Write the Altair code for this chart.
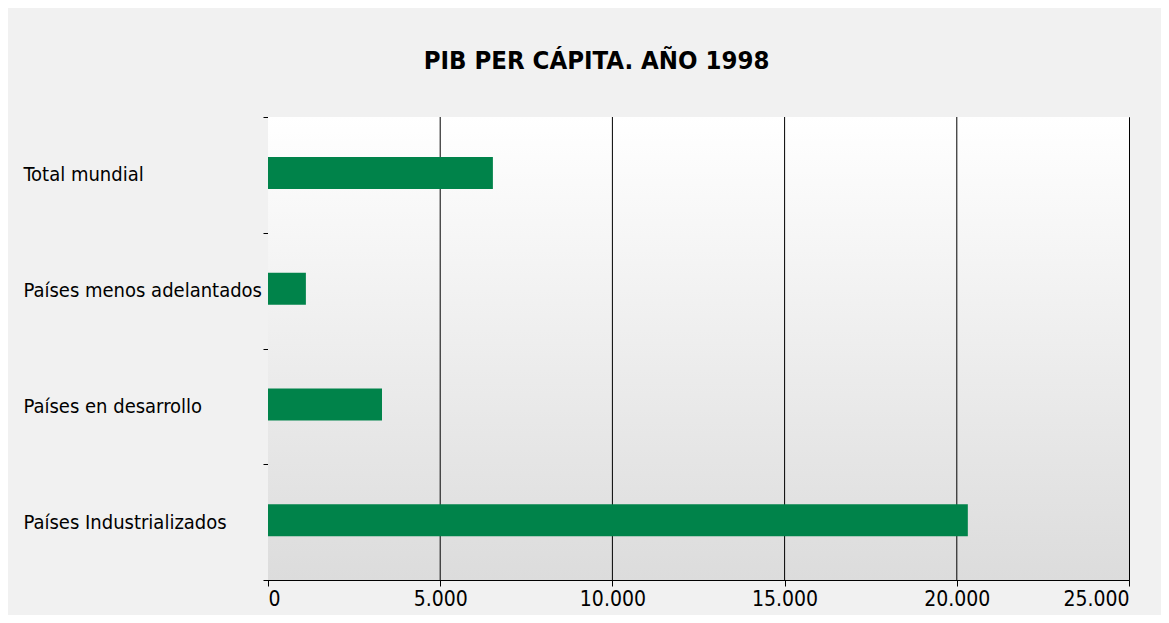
import altair as alt
import pandas as pd

categories = ["Total mundial", "Países menos adelantados", "Países en desarrollo", "Países Industrializados"]
values = [6530, 1100, 3310, 20320]
x_ticks = [0, 5000, 10000, 15000, 20000, 25000]

df = pd.DataFrame({"region": categories, "pib": values})
grid_df = pd.DataFrame({"tick": x_ticks[1:-1]})

FONT = "'DejaVu Sans Condensed', Roboto, sans-serif"

xscale = alt.Scale(domain=[0, 25000], nice=False)

bg = alt.Chart(pd.DataFrame({"a": [0], "b": [25000]})).mark_rect(
    color=alt.Gradient(gradient="linear", x1=0, y1=0, x2=0, y2=1,
                       stops=[alt.GradientStop(offset=0, color="#ffffff"),
                              alt.GradientStop(offset=1, color="#dcdcdc")])
).encode(x=alt.X("a:Q", scale=xscale), x2="b:Q")

grid = alt.Chart(grid_df).mark_rule(color="#000000", strokeWidth=1).encode(
    x=alt.X("tick:Q", scale=xscale)
)

bars = alt.Chart(df).mark_bar(size=32, color="#00834A", yOffset=-2).encode(
    x=alt.X("pib:Q",
            scale=xscale,
            axis=alt.Axis(values=x_ticks, title=None, grid=False, domainColor="#000000",
                          tickColor="#000000", tickSize=6, labelFont=FONT, labelFontSize=21,
                          labelColor="#000000", labelPadding=2,
                          labelExpr="replace(format(datum.value, ','), ',', '.')")),
    y=alt.Y("region:N", sort=categories,
            scale=alt.Scale(paddingInner=0, paddingOuter=0),
            axis=alt.Axis(title=None, tickBand="extent", domainColor="#000000", tickColor="#000000",
                          tickSize=5, labelAlign="left", labelPadding=240, labelFont=FONT,
                          labelFontSize=20, labelColor="#000000", labelLimit=400)),
)

chart = alt.layer(bg, grid, bars).properties(
    width=861,
    height=463,
    title=alt.TitleParams("PIB PER CÁPITA. AÑO 1998", font=FONT, fontSize=25.5, fontWeight="bold",
                          color="#000000", anchor="middle", dx=-102, offset=33),
    padding={"left": 260, "top": 109, "right": 32, "bottom": 35},
    autosize=alt.AutoSizeParams(type="none"),
).configure(
    background="#f1f1f1",
).configure_view(
    stroke="#000000",
    strokeWidth=1,
)

chart.save("out.html", embed_options={"renderer": "svg", "actions": False})
